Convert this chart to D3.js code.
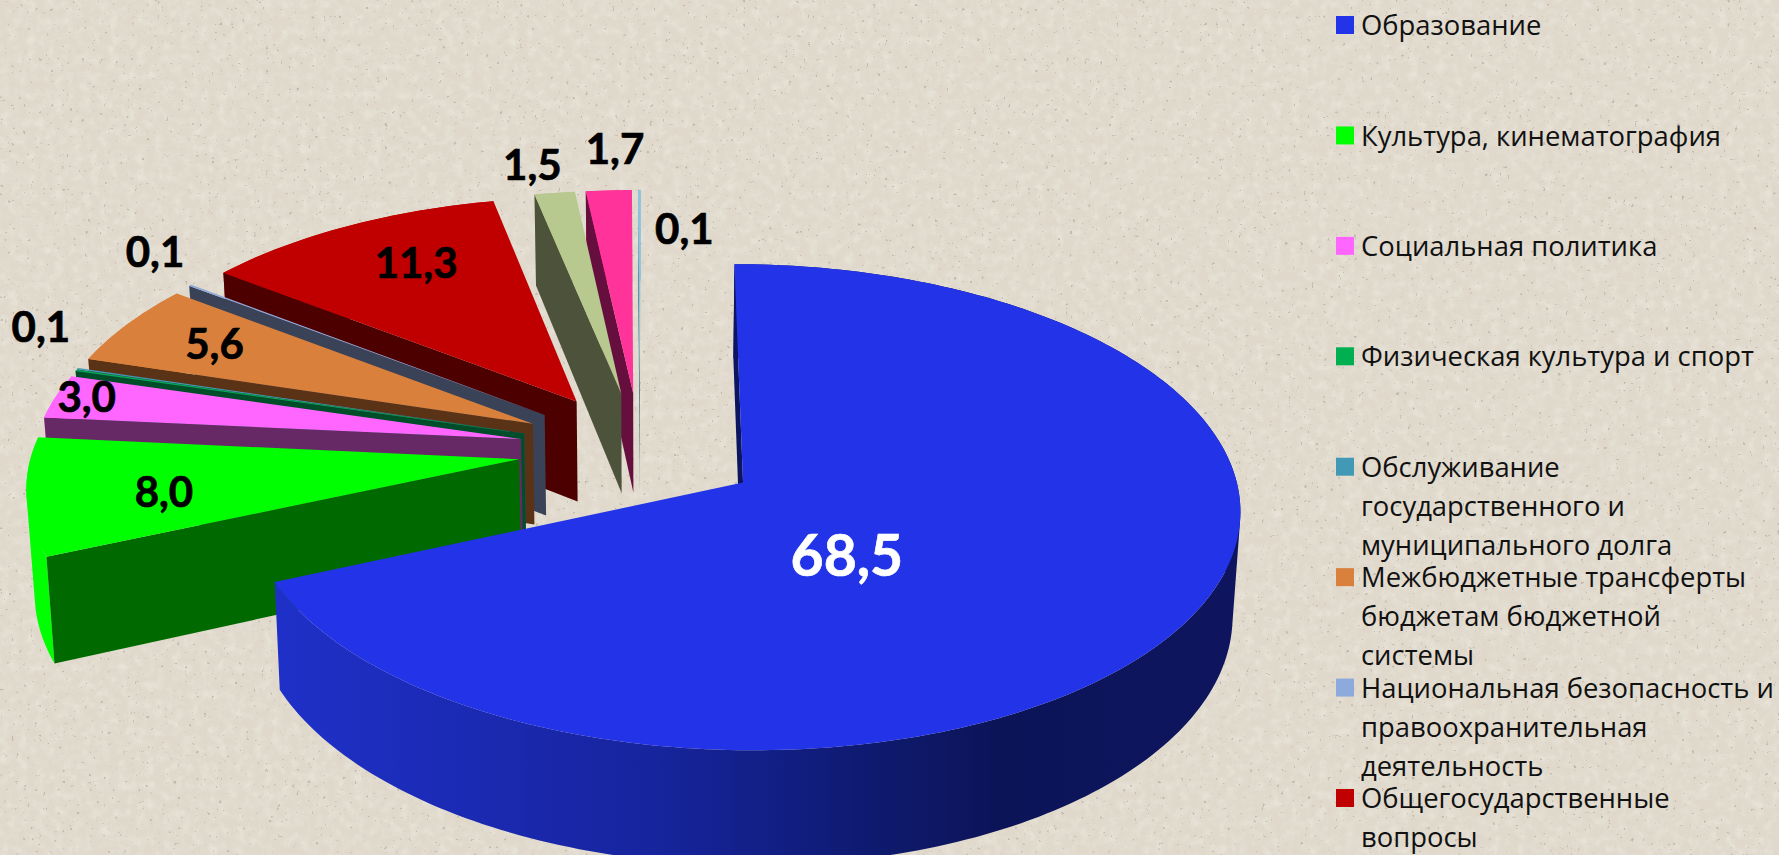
<!DOCTYPE html>
<html>
<head>
	<meta charset="UTF-8" />
	<title>pie 3d</title>
	<script src="https://d3js.org/d3.v7.min.js"></script>
	<style type="text/css">
		html, body {margin: 0; padding: 0; background: #e0d9cc; overflow: hidden;}
		svg {display: block;}
		.value {font-family: Lato, sans-serif; font-weight: 700; text-anchor: middle; stroke-width: 0.7px;}
		.legend {font-family: "Open Sans", sans-serif; font-size: 27.4px; fill: #111;}
	</style>
</head>
<body>
	<svg id="chart" width="1779" height="855"></svg>

	<script type="text/javascript">
	// values, clockwise from twelve o'clock
	var values = [68.5, 8.0, 3.0, 0.1, 0.1, 5.6, 0.1, 11.3, 1.5, 1.7, 0.1]
	var valueLabels = ["68,5", "8,0", "3,0", "0,1", "", "5,6", "0,1", "11,3", "1,5", "1,7", "0,1"]

	// only the first 8 legend rows fit on the picture
	var categories = [
		["Образование"],
		["Культура, кинематография"],
		["Социальная политика"],
		["Физическая культура и спорт"],
		["Обслуживание", "государственного и", "муниципального долга"],
		["Межбюджетные трансферты", "бюджетам бюджетной", "системы"],
		["Национальная безопасность и", "правоохранительная", "деятельность"],
		["Общегосударственные", "вопросы"]
	]

	// colors
	var topColors = ["#2233e8", "#00ff00", "#ff66ff", "#00b050", "#4299b5", "#d9813c", "#8ea9db", "#c00000", "#b7c98f", "#ff3399", "#8fc4dc"]
	var wallColors = ["#0c1560", "#006a00", "#662966", "#004d2a", "#1d4d5c", "#5a3216", "#3a4257", "#4d0000", "#4d533a", "#660f3e", "#2f5f70"]
	var rimColors = ["url(#rimBlue)", "#00ff00", "#ff66ff", "#00b050", "#4299b5", "#d9813c", "#8ea9db", "#c00000", "#b7c98f", "#ff3399", "#8fc4dc"]

	// label place around the pie center: radius in pie units, angle in degrees
	var labelRadius = [0.596, 0.976, 1.186, 1.413, 0, 1.032, 1.429, 1.003, 1.41, 1.477, 1.045]
	var labelAngle = [136.9, 259.6, 281.3, 293.1, 0, 297.4, 310.3, 330, 349.6, 357.6, 5.4]

	// init window
	var w = 1779
	var h = 855

	// camera, found by measuring the picture
	var rx = 487, ry = 234
	var cx = 640, cy = 450
	var vanishX = 650
	var tilt = 0.1
	var explode = 0.25
	var depth = 102
	var converge = 0.0133

	// ground point (u right, v away from viewer) to screen
	function project(u, v, lower) {
		var s = 1 / (1 + tilt * v)
		var x = vanishX + (cx - vanishX + rx * u) * s
		var y = cy - ry * v * s
		if (lower) {
			x = vanishX + (x - vanishX) * (1 - converge)
			y = y + depth * s
		}
		return [x, y]
	}

	var svg = d3.select("#chart")
	var defs = svg.append("defs")

	// paper background: faint mottling and a few dark specks
	function noiseFilter(id, freq, seed, matrix) {
		var f = defs.append("filter").attr("id", id).attr("x", 0).attr("y", 0).attr("width", "100%").attr("height", "100%")
		f.append("feTurbulence").attr("type", "fractalNoise").attr("baseFrequency", freq).attr("numOctaves", 3).attr("seed", seed)
		f.append("feColorMatrix").attr("type", "matrix").attr("values", matrix)
	}
	noiseFilter("mottle", 0.11, 9, "0 0 0 0 0.95  0 0 0 0 0.93  0 0 0 0 0.88  0 0 0 2 -0.8")
	noiseFilter("specks", 0.26, 4, "0 0 0 0 0.42  0 0 0 0 0.38  0 0 0 0 0.32  0 0 0 14 -10.2")

	var grad = defs.append("linearGradient").attr("id", "rimBlue")
		.attr("gradientUnits", "userSpaceOnUse")
		.attr("x1", 280).attr("x2", 1240).attr("y1", 0).attr("y2", 0)
	grad.append("stop").attr("offset", 0).attr("stop-color", "#1f30c8")
	grad.append("stop").attr("offset", 0.4).attr("stop-color", "#16249c")
	grad.append("stop").attr("offset", 0.62).attr("stop-color", "#0e1a6e")
	grad.append("stop").attr("offset", 0.75).attr("stop-color", "#0c1458")
	grad.append("stop").attr("offset", 1).attr("stop-color", "#0e155e")

	svg.append("rect").attr("width", w).attr("height", h).attr("fill", "#dfd8cb")
	svg.append("rect").attr("width", w).attr("height", h).attr("filter", "url(#mottle)").attr("opacity", 0.35)
	svg.append("rect").attr("width", w).attr("height", h).attr("filter", "url(#specks)").attr("opacity", 0.6)

	// slices
	var pie = d3.pie().sort(null).value(d => d)
	var arcs = pie(values)
	var line = d3.line()

	function slicePath(d, lower) {
		var mid = (d.startAngle + d.endAngle) / 2
		var offU = explode * Math.sin(mid)
		var offV = explode * Math.cos(mid)
		return {
			apex: project(offU, offV, lower),
			point: a => project(offU + Math.sin(a), offV + Math.cos(a), lower)
		}
	}

	function arcAngles(d) {
		var n = Math.max(2, Math.ceil((d.endAngle - d.startAngle) / 0.02))
		return d3.range(n + 1).map(i => d.startAngle + (d.endAngle - d.startAngle) * i / n)
	}

	// the rim is a strip of quads, all wound the same way so the fill has no holes
	function rimPath(angles, upper, under) {
		return d3.pairs(angles).map(p => {
			var quad = [upper.point(p[0]), upper.point(p[1]), under.point(p[1]), under.point(p[0])]
			if (d3.polygonArea(quad) < 0) quad.reverse()
			return line(quad) + "Z"
		}).join("")
	}

	// back to front: last slice first, big blue one on top
	var order = d3.range(values.length - 1, 0, -1).concat([0])

	var marks = svg.append("g")
	order.forEach(i => {
		var d = arcs[i]
		var upper = slicePath(d, false)
		var under = slicePath(d, true)
		var angles = arcAngles(d)
		var g = marks.append("g").attr("class", "slice")

		// outer rim
		g.append("path")
			.attr("d", rimPath(angles, upper, under))
			.attr("fill", rimColors[i])

		// cut wall on the side that looks at the viewer
		var wall = [upper.apex, upper.point(d.startAngle), under.point(d.startAngle), under.apex]
		g.append("path")
			.attr("d", line(wall) + "Z")
			.attr("fill", wallColors[i])

		// top face
		g.append("path")
			.attr("d", line([upper.apex].concat(angles.map(upper.point))) + "Z")
			.attr("fill", topColors[i])
	})

	// value labels
	function labelPos(i) {
		var a = labelAngle[i] * Math.PI / 180
		return project(labelRadius[i] * Math.sin(a), labelRadius[i] * Math.cos(a))
	}
	svg.append("g").selectAll("text")
		.data(valueLabels)
		.enter()
		.append("text")
		.attr("class", "value")
		.attr("x", (d, i) => labelPos(i)[0])
		.attr("y", (d, i) => labelPos(i)[1])
		.attr("dy", "0.35em")
		.attr("font-size", (d, i) => i == 0 ? 57 : 42)
		.attr("fill", (d, i) => i == 0 ? "#ffffff" : "#000000")
		.attr("stroke", (d, i) => i == 0 ? "#ffffff" : "#000000")
		.text(d => d)

	// legend
	var rowY = d3.scaleLinear().domain([0, categories.length - 1]).range([25, 798])
	var rows = svg.append("g").selectAll("g")
		.data(categories)
		.enter()
		.append("g")
		.attr("transform", (d, i) => "translate(1336," + rowY(i) + ")")
	rows.append("rect")
		.attr("y", -9)
		.attr("width", 18)
		.attr("height", 18)
		.attr("fill", (d, i) => topColors[i])
	rows.selectAll("text")
		.data(d => d)
		.enter()
		.append("text")
		.attr("class", "legend")
		.attr("x", 25)
		.attr("y", (d, i) => i * 39)
		.attr("dy", "0.37em")
		.text(d => d)
	</script>
</body>
</html>
